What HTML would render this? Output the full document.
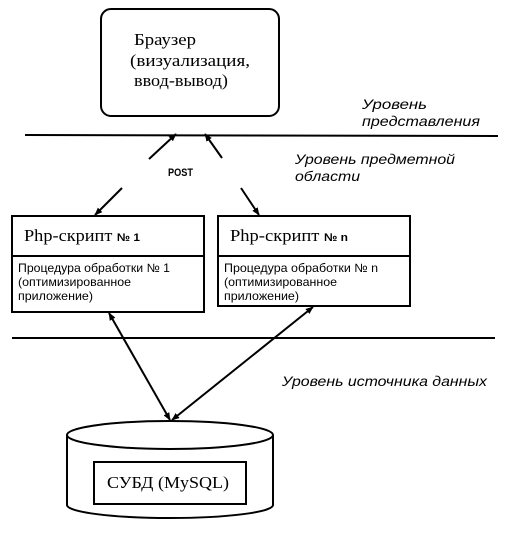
<!DOCTYPE html>
<html><head><meta charset="utf-8"><style>
body{margin:0;background:#fff;}
svg{display:block}
.s{font-family:"Liberation Serif","DejaVu Serif",serif;}
.a{font-family:"Liberation Sans","DejaVu Sans",sans-serif;}
</style></head><body>
<svg width="506" height="538" viewBox="0 0 506 538" xmlns="http://www.w3.org/2000/svg">
<defs>
<marker id="ah" viewBox="0 0 10 10" refX="9" refY="5" markerWidth="8" markerHeight="8" orient="auto-start-reverse" markerUnits="userSpaceOnUse">
<path d="M0,1 L10,5 L0,9 z" fill="#000"/>
</marker>
</defs>
<g fill="none" stroke="#000" stroke-width="2">
<rect x="101" y="9" width="178" height="107" rx="10"/>
<line x1="25" y1="135" x2="498" y2="136" />
<line x1="12" y1="338" x2="495" y2="338" />
<rect x="12" y="216" width="192" height="96"/>
<line x1="12" y1="256" x2="204" y2="256"/>
<rect x="218" y="216" width="192" height="90"/>
<line x1="218" y1="256" x2="410" y2="256"/>
<line x1="149" y1="159" x2="176" y2="134" marker-end="url(#ah)"/>
<line x1="222" y1="158" x2="205" y2="134" marker-end="url(#ah)"/>
<line x1="122" y1="188" x2="95" y2="215" marker-end="url(#ah)"/>
<line x1="241" y1="188" x2="259" y2="215" marker-end="url(#ah)"/>
<line x1="109" y1="313" x2="170" y2="420" marker-start="url(#ah)" marker-end="url(#ah)"/>
<line x1="313" y1="307" x2="172" y2="420" marker-start="url(#ah)" marker-end="url(#ah)"/>
<path d="M67,435 L67,505 A103,13 0 0 0 273,505 L273,435"/>
<ellipse cx="170" cy="435" rx="103" ry="14" fill="#fff"/>
<rect x="94" y="462" width="152" height="42"/>
</g>
<g class="s" font-size="17" fill="#000" lengthAdjust="spacingAndGlyphs">
<text x="134" y="45" textLength="62" lengthAdjust="spacingAndGlyphs">Браузер</text>
<text x="130" y="66" textLength="120" lengthAdjust="spacingAndGlyphs">(визуализация,</text>
<text x="134" y="86" textLength="94" lengthAdjust="spacingAndGlyphs">ввод-вывод)</text>
<text x="24" y="241" textLength="116" lengthAdjust="spacingAndGlyphs">Php-скрипт <tspan class="a" font-size="11" font-weight="bold">№ 1</tspan></text>
<text x="230" y="241" textLength="118" lengthAdjust="spacingAndGlyphs">Php-скрипт <tspan class="a" font-size="11" font-weight="bold">№ n</tspan></text>
<text x="107" y="488" textLength="122" lengthAdjust="spacingAndGlyphs">СУБД (MySQL)</text>
</g>
<g class="a" font-size="12" fill="#000">
<text x="168" y="176" font-weight="bold" font-size="11" textLength="25" lengthAdjust="spacingAndGlyphs">POST</text>
<text x="18" y="272" textLength="152" lengthAdjust="spacingAndGlyphs">Процедура обработки № 1</text>
<text x="18" y="286" textLength="113" lengthAdjust="spacingAndGlyphs">(оптимизированное</text>
<text x="18" y="300" textLength="75" lengthAdjust="spacingAndGlyphs">приложение)</text>
<text x="224" y="272" textLength="154" lengthAdjust="spacingAndGlyphs">Процедура обработки № n</text>
<text x="224" y="286" textLength="113" lengthAdjust="spacingAndGlyphs">(оптимизированное</text>
<text x="224" y="300" textLength="75" lengthAdjust="spacingAndGlyphs">приложение)</text>
</g>
<g class="a" font-size="14" font-style="italic" fill="#000">
<text x="362" y="109" textLength="65" lengthAdjust="spacingAndGlyphs">Уровень</text>
<text x="362" y="126" textLength="118" lengthAdjust="spacingAndGlyphs">представления</text>
<text x="295" y="164" textLength="160" lengthAdjust="spacingAndGlyphs">Уровень предметной</text>
<text x="295" y="181" textLength="65" lengthAdjust="spacingAndGlyphs">области</text>
<text x="282" y="386" textLength="205" lengthAdjust="spacingAndGlyphs">Уровень источника данных</text>
</g>
</svg>
</body></html>
